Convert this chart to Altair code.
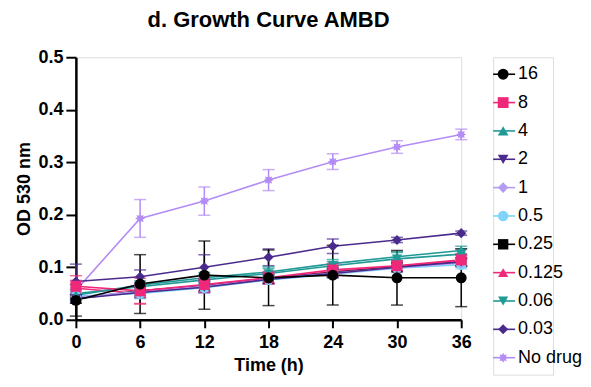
import math
import altair as alt
import pandas as pd

times = [0, 6, 12, 18, 24, 30, 36]
series = ["16", "8", "4", "2", "1", "0.5", "0.25", "0.125", "0.06", "0.03", "No drug"]
values = {
    "16":      [0.037, 0.068, 0.085, 0.080, 0.085, 0.080, 0.080],
    "8":       [0.064, 0.055, 0.067, 0.080, 0.095, 0.103, 0.114],
    "4":       [0.047, 0.066, 0.080, 0.091, 0.107, 0.120, 0.132],
    "2":       [0.040, 0.052, 0.062, 0.077, 0.088, 0.100, 0.110],
    "1":       [0.043, 0.054, 0.064, 0.078, 0.089, 0.099, 0.108],
    "0.5":     [0.045, 0.050, 0.061, 0.076, 0.087, 0.098, 0.105],
    "0.25":    [0.040, 0.055, 0.065, 0.078, 0.090, 0.100, 0.110],
    "0.125":   [0.060, 0.050, 0.066, 0.079, 0.092, 0.102, 0.113],
    "0.06":    [0.050, 0.063, 0.076, 0.088, 0.103, 0.116, 0.125],
    "0.03":    [0.073, 0.082, 0.100, 0.119, 0.140, 0.152, 0.165],
    "No drug": [0.056, 0.193, 0.226, 0.266, 0.301, 0.329, 0.353],
}
errors = {
    "16":      [0.030, 0.056, 0.065, 0.053, 0.057, 0.052, 0.055],
    "8":       [0.020, 0.024, 0.015, 0.012, 0.012, 0.010, 0.012],
    "4":       [0.008, 0.008, 0.010, 0.010, 0.008, 0.010, 0.008],
    "2":       [0.008, 0.010, 0.010, 0.008, 0.008, 0.008, 0.008],
    "1":       [0.008, 0.010, 0.010, 0.008, 0.008, 0.008, 0.008],
    "0.5":     [0.008, 0.010, 0.010, 0.008, 0.008, 0.008, 0.008],
    "0.25":    [0.008, 0.010, 0.010, 0.008, 0.008, 0.008, 0.008],
    "0.125":   [0.015, 0.020, 0.012, 0.010, 0.010, 0.010, 0.010],
    "0.06":    [0.008, 0.008, 0.010, 0.010, 0.008, 0.012, 0.010],
    "0.03":    [0.033, 0.013, 0.024, 0.016, 0.014, 0.005, 0.004],
    "No drug": [0.005, 0.036, 0.027, 0.020, 0.015, 0.012, 0.010],
}
colors = ["#000000", "#f0287a", "#1f9a96", "#4b2a8e", "#b49cf2", "#80d4f8",
          "#000000", "#f0287a", "#1f9a96", "#4b2a8e", "#b48cf6"]

# 8-point star shape for "No drug"
pts = []
for i in range(16):
    r = 1.0 if i % 2 == 0 else 0.6
    a = math.pi * i / 8
    pts.append(f"{r*math.sin(a):.3f},{-r*math.cos(a):.3f}")
star = "M" + "L".join(pts) + "Z"
shapes = ["circle", "square", "triangle-up", "triangle-down", "diamond", "circle",
          "square", "triangle-up", "triangle-down", "diamond", star]
sizes = [120, 100, 110, 110, 70, 120, 100, 120, 120, 130, 110]

rows = []
for s in reversed(series):
    for t, v, e in zip(times, values[s], errors[s]):
        rows.append({"series": s, "time": t, "od": v, "lo": v - e, "hi": v + e})
df = pd.DataFrame(rows)

font = "Liberation Sans"
color_scale = alt.Scale(domain=series, range=colors)
shape_scale = alt.Scale(domain=series, range=shapes)
size_scale = alt.Scale(domain=series, range=sizes)

xenc = alt.X("time:Q", title="Time (h)",
             scale=alt.Scale(domain=[0, 36], nice=False),
             axis=alt.Axis(values=times, grid=False, labelFontSize=18, labelFontWeight="bold",
                           titleFontSize=18, titleFontWeight="bold", labelFont=font, titleFont=font,
                           domainColor="black", domainWidth=2.5, tickColor="black", tickWidth=2,
                           tickSize=8, labelColor="black", titleColor="black", labelPadding=6,
                           titlePadding=5, labelFlush=False))
yaxis = alt.Axis(values=[0, 0.1, 0.2, 0.3, 0.4, 0.5], format=".1f", grid=False,
                 labelFontSize=18, labelFontWeight="bold", titleFontSize=18, titleFontWeight="bold",
                 labelFont=font, titleFont=font, domainColor="black", domainWidth=2.5,
                 tickColor="black", tickWidth=2, tickSize=10, labelColor="black",
                 titleColor="black", labelPadding=3, titlePadding=4)
yenc = alt.Y("od:Q", title="OD 530 nm", scale=alt.Scale(domain=[0, 0.5], nice=False), axis=yaxis)

base = alt.Chart(df)
cenc = alt.Color("series:N", scale=color_scale, legend=None)

rules = base.mark_rule(strokeWidth=1.5).encode(
    x="time:Q", y="lo:Q", y2="hi:Q", color=cenc)
caps_lo = base.mark_tick(orient="horizontal", size=12, thickness=1.5).encode(
    x="time:Q", y="lo:Q", color=cenc)
caps_hi = base.mark_tick(orient="horizontal", size=12, thickness=1.5).encode(
    x="time:Q", y="hi:Q", color=cenc)
lines = base.mark_line(strokeWidth=1.6).encode(
    x=xenc, y=yenc, color=cenc, detail="series:N")
points = base.mark_point(filled=True, opacity=1).encode(
    x="time:Q", y="od:Q", color=cenc,
    shape=alt.Shape("series:N", scale=shape_scale, legend=None),
    size=alt.Size("series:N", scale=size_scale, legend=None))

main = alt.layer(lines, rules, caps_lo, caps_hi, points).properties(
    width=386, height=263,
    title=alt.TitleParams("d. Growth Curve AMBD", fontSize=22, fontWeight="bold", font=font,
                          color="black", anchor="middle", offset=16))

leg_df = pd.DataFrame({"series": series})
ly = alt.Y("series:N", scale=alt.Scale(domain=series, type="point", padding=0.6), axis=None)
lbase = alt.Chart(leg_df)
leg_line = lbase.mark_rule(strokeWidth=1.6).encode(
    x=alt.value(0), x2=alt.value(22), y=ly, color=cenc)
leg_pt = lbase.mark_point(filled=True, opacity=1).encode(
    x=alt.value(10), y=ly, color=cenc,
    shape=alt.Shape("series:N", scale=shape_scale, legend=None),
    size=alt.Size("series:N", scale=size_scale, legend=None))
leg_txt = lbase.mark_text(align="left", baseline="middle", fontSize=18, font=font,
                          color="black").encode(
    x=alt.value(25), y=ly, text="series:N")
legend = alt.layer(leg_line, leg_pt, leg_txt).properties(width=60, height=318)

chart = alt.hconcat(main, legend, spacing=19).properties(
    padding={"left": 7, "top": 0, "right": 0, "bottom": 0}
).configure_view(stroke=None).configure(background="white")

chart.save("out.html", embed_options={"renderer": "svg", "actions": False})
